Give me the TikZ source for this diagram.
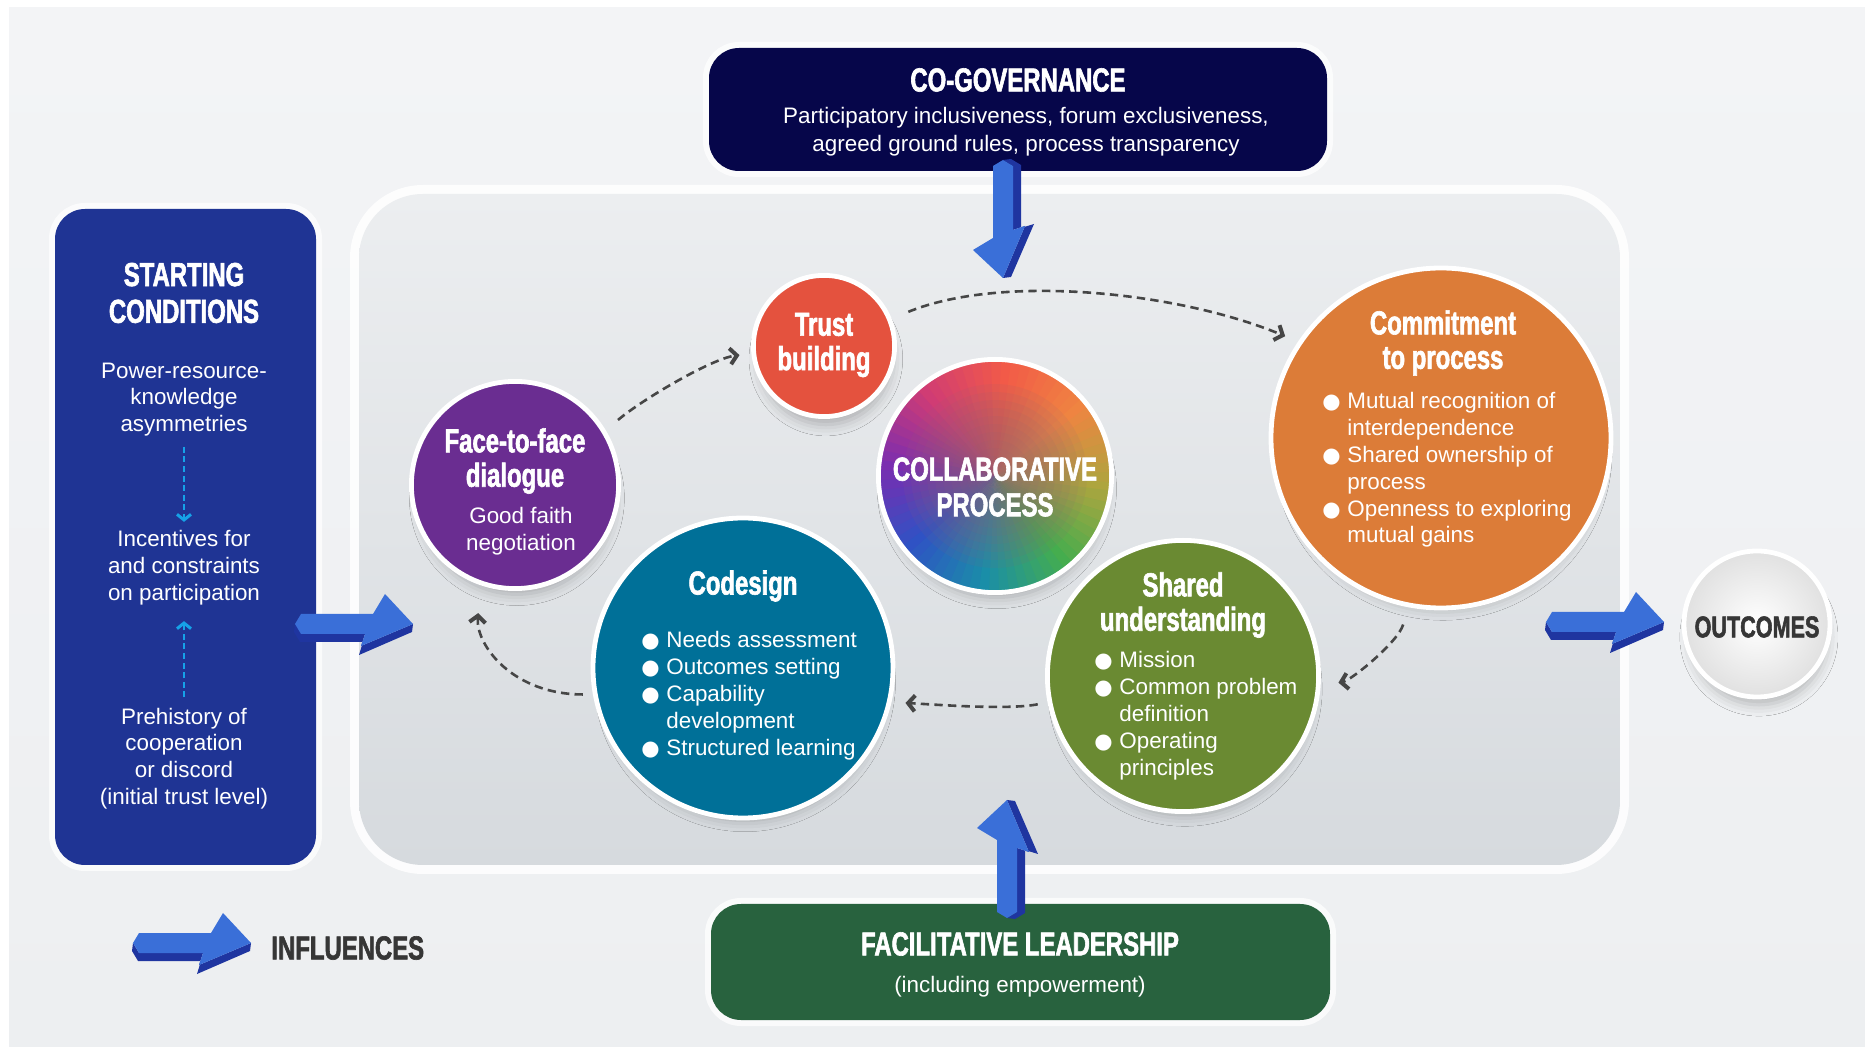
\documentclass[tikz,border=0pt]{standalone}
\usepackage{fontspec}
\setmainfont{Liberation Sans}
\newfontfamily\headfont{Liberation Sans}[FakeStretch=0.72,BoldFeatures={FakeBold=1.8}]
\newfontfamily\symfont{DejaVu Sans}
\usetikzlibrary{arrows.meta,shadows.blur}

\definecolor{bgtop}{HTML}{F3F4F6}
\definecolor{bgbot}{HTML}{EDEFF1}
\definecolor{panelt}{HTML}{ECEEF0}
\definecolor{panelb}{HTML}{D6DADE}
\definecolor{startc}{HTML}{1F3494}
\definecolor{govc}{HTML}{06064A}
\definecolor{facc}{HTML}{28623E}
\definecolor{trustc}{HTML}{E4523E}
\definecolor{facec}{HTML}{6A2D91}
\definecolor{commc}{HTML}{DC7C38}
\definecolor{codec}{HTML}{007098}
\definecolor{sharedc}{HTML}{6A8A32}
\definecolor{arrl}{HTML}{3A6FD8}
\definecolor{arrd}{HTML}{1F35A0}
\definecolor{dashc}{HTML}{464646}
\definecolor{cyanc}{HTML}{16A2E8}
\definecolor{inkc}{HTML}{363636}
% hues around the collaborative-process disc (by angle)
\definecolor{k0}{HTML}{AEA53E}
\definecolor{k1}{HTML}{EF8441}
\definecolor{k2}{HTML}{F25A48}
\definecolor{k3}{HTML}{D03C74}
\definecolor{k4}{HTML}{7A2DB0}
\definecolor{k5}{HTML}{2F52C4}
\definecolor{k6}{HTML}{1A8EA8}
\definecolor{k7}{HTML}{45AD4E}
\definecolor{kmid}{HTML}{8E6474}

\newcommand\hdfont{\headfont\bfseries\fontsize{16.6}{17.2}\selectfont}
\newcommand\bdfont{\fontsize{11.2}{13.4}\selectfont}
\newcommand\bul{\makebox[12.5pt][l]{\symfont\fontsize{10.5}{10}\selectfont ●}}

% 3-D style block arrow pointing along +x, origin at the tail
\newcommand\blockarrow{%
  \fill[arrd] (0,0) -- (6,10) -- (70,10) -- (66,22) -- (118,0) -- (117,8)
    -- (64,31) -- (68,18) -- (5,18) -- (-1,8) -- cycle;
  \fill[arrl] (0,0) -- (6,-10) -- (78,-10) -- (90,-30) -- (118,0)
    -- (66,22) -- (70,10) -- (6,10) -- cycle;
}

\tikzset{
  box/.style={rounded corners=15pt, fill=#1, inner sep=0pt,
    preaction={draw=white, line width=6pt, draw opacity=0.75}},
  bub/.style={circle, draw=white, line width=2.4pt, inner sep=0pt, minimum size=#1,
    blur shadow={shadow xshift=1pt, shadow yshift=-7pt, shadow scale=0.93,
      shadow blur radius=6pt, shadow opacity=24}},
  title/.style={text=white, align=center, inner sep=0pt, font=\hdfont},
  body/.style={text=white, align=center, inner sep=0pt, font=\bdfont},
  list/.style={text=white, inner sep=0pt, anchor=base west, font=\bdfont},
  flow/.style={dashc, line width=1.3pt, dash pattern=on 4.2pt off 2.6pt,
    -{Straight Barb[length=3.4pt,width=8pt,line width=2pt]}},
  cue/.style={cyanc, line width=1.3pt, dash pattern=on 3pt off 1.8pt,
    -{Straight Barb[length=2.8pt,width=7pt,line width=1.5pt]}},
}

\begin{document}
\begin{tikzpicture}[x=0.5pt,y=-0.5pt]
\useasboundingbox (0,0) rectangle (1865,1047);
\fill[white] (0,0) rectangle (1865,1047);
\shade[top color=bgtop, bottom color=bgbot] (9,8) rectangle (1865,1047);

% central panel
\node[rounded corners=32pt, top color=panelt, bottom color=panelb, inner sep=0pt,
  minimum width=630.5pt, minimum height=335.5pt,
  preaction={draw=white, line width=9pt, draw opacity=0.85}] (panel) at (989.5,529.5) {};

% side and top/bottom boxes
\node[box=startc, minimum width=130.5pt, minimum height=328pt] (start) at (185.5,537) {};
\node[box=govc, minimum width=309pt, minimum height=61.5pt] (gov) at (1018,109.5) {};
\node[box=facc, minimum width=309.5pt, minimum height=58pt] (fac) at (1020.5,962) {};

% influence arrows
\begin{scope}[shift={(295,624)}] \blockarrow \end{scope}
\begin{scope}[shift={(1546,622)}] \blockarrow \end{scope}
\begin{scope}[shift={(133,943)}] \blockarrow \end{scope}
\begin{scope}[shift={(1003,160)}, rotate=-90, yscale=-1] \blockarrow \end{scope}
\begin{scope}[shift={(1007,918)}, rotate=90] \blockarrow \end{scope}

% process circles
\node[bub=70.6pt, fill=trustc] (trust) at (824,346) {};
\node[bub=103.6pt, fill=facec] (face) at (515,485) {};
\node[bub=116.6pt, path picture={
    \foreach \k/\ca/\cb in {0/k0/k1,1/k1/k2,2/k2/k3,3/k3/k4,4/k4/k5,5/k5/k6,6/k6/k7,7/k7/k0}{
      \foreach \j in {0,...,8}{
        \pgfmathsetmacro\aa{\k*45+\j*5-8}
        \pgfmathsetmacro\pp{100-\j*100/9}
        \fill[\ca!\pp!\cb] (path picture bounding box.center) -- ++(\aa:62pt)
          arc[start angle=\aa, end angle=\aa+5.8, radius=62pt] -- cycle;
      }
    }
    % soft blended core
    \foreach \r in {46,42,...,6}{
      \fill[kmid, fill opacity=0.1] (path picture bounding box.center) circle (\r pt);
    }
  }] (collab) at (995,476) {};
\node[bub=170pt, fill=commc] (comm) at (1441,438) {};
\node[bub=150pt, fill=codec] (code) at (743,668) {};
\node[bub=135.6pt, fill=sharedc] (shared) at (1183,676) {};
\node[bub=73pt, inner color=white, outer color=black!12] (outc) at (1757,624) {};

% starting conditions
\node[title, font=\headfont\bfseries\fontsize{16.6}{18.4}\selectfont] (t-start) at (184,293) {STARTING\\CONDITIONS};
\node[body] (asym) at (184,399.5) {Power-resource-\\knowledge\\asymmetries};
\node[body] (incent) at (184,567.5) {Incentives for\\and constraints\\on participation};
\node[body] (prehist) at (184,758.5) {Prehistory of\\cooperation\\or discord\\(initial trust level)};
\draw[cue, shorten <=5pt, shorten >=4pt] (asym.south) -- (incent.north);
\draw[cue, shorten <=5pt, shorten >=8pt] (prehist.north) -- (incent.south);

% co-governance and leadership
\node[title] (t-gov) at (1018,80) {CO-GOVERNANCE};
\node[body, font=\fontsize{11.2}{14.25}\selectfont] (b-gov) at (1026,131.5)
  {Participatory inclusiveness, forum exclusiveness,\\agreed ground rules, process transparency};
\node[title] (t-fac) at (1020,944) {FACILITATIVE LEADERSHIP};
\node[body] (b-fac) at (1020,987) {(including empowerment)};

% circle texts
\node[title] (t-trust) at (824,345) {Trust\\building};
\node[title] (t-face) at (515,461) {Face-to-face\\dialogue};
\node[body] (b-face) at (521,531) {Good faith\\negotiation};
\node[title, font=\headfont\bfseries\fontsize{16.6}{17.8}\selectfont] (t-collab) at (995,487) {COLLABORATIVE\\PROCESS};
\node[title] (t-comm) at (1443,343) {Commitment\\to process};
\node[list] (l-comm) at (1322,409) {\begin{tabular}[t]{@{}l@{}l@{}}
  \bul & Mutual recognition of\\ & interdependence\\
  \bul & Shared ownership of\\ & process\\
  \bul & Openness to exploring\\ & mutual gains\end{tabular}};
\node[title] (t-code) at (743,586) {Codesign};
\node[list] (l-code) at (641,648) {\begin{tabular}[t]{@{}l@{}l@{}}
  \bul & Needs assessment\\ \bul & Outcomes setting\\
  \bul & Capability\\ & development\\ \bul & Structured learning\end{tabular}};
\node[title] (t-shared) at (1183,605) {Shared\\understanding};
\node[list] (l-shared) at (1094,668) {\begin{tabular}[t]{@{}l@{}l@{}}
  \bul & Mission\\ \bul & Common problem\\ & definition\\
  \bul & Operating\\ & principles\end{tabular}};
\node[title, text=inkc, font=\headfont\bfseries\fontsize{15}{15}\selectfont] (t-outc) at (1757,627) {OUTCOMES};
\node[title, text=inkc, anchor=west] (t-infl) at (271,948) {INFLUENCES};

% cycle of the collaborative process
\draw[flow, shorten <=8pt, shorten >=6pt] (face.31) .. controls +(35,-30) and +(-40,5) .. (trust.186);
\draw[flow, shorten <=9pt, shorten >=7pt] (trust.22) .. controls +(110,-45) and +(-120,-50) .. (comm.146);
\draw[flow, shorten <=9pt, shorten >=9pt] (comm.259) .. controls +(-10,35) and +(30,-5) .. (shared.356);
\draw[flow, shorten <=5pt, shorten >=7pt] (shared.191) .. controls +(-40,8) and +(40,2) .. (code.347);
\draw[flow, shorten <=5pt, shorten >=14pt] (code.190) .. controls +(-80,0) and +(-5,60) .. (face.251);
\end{tikzpicture}
\end{document}
